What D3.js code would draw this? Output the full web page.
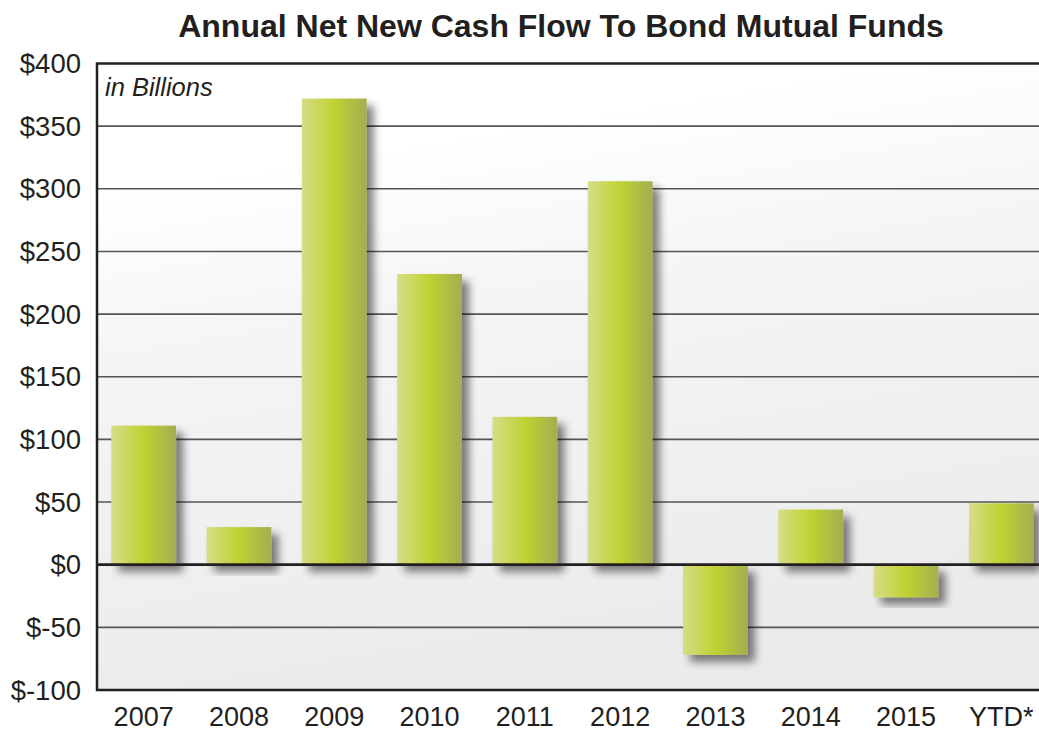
<!DOCTYPE html>
<html>
<head>
<meta charset="utf-8">
<script src="https://cdn.jsdelivr.net/npm/d3@7/dist/d3.min.js"></script>
<style>
html,body{margin:0;padding:0;background:#fff;}
svg{display:block;}
text{font-family:"Liberation Sans",Arial,Helvetica,sans-serif;fill:#231f20;}
</style>
</head>
<body>
<svg id="chart" width="1039" height="733"></svg>
<script>
const categories = ["2007","2008","2009","2010","2011","2012","2013","2014","2015","YTD*"];
const values = [111, 30, 372, 232, 118, 306, -72, 44, -26, 49];
const yTicks = [-100, -50, 0, 50, 100, 150, 200, 250, 300, 350, 400];
const titleText = "Annual Net New Cash Flow To Bond Mutual Funds";
const unitText = "in Billions";

const W = 1039, H = 733;
const plot = {left: 97, right: 1039, top: 63.5, bottom: 690};

const svg = d3.select("#chart");
const defs = svg.append("defs");

// background gradient
const bg = defs.append("linearGradient").attr("id","bgGrad")
  .attr("x1","0").attr("y1","0").attr("x2","0.25").attr("y2","1");
bg.append("stop").attr("offset","0").attr("stop-color","#ffffff");
bg.append("stop").attr("offset","0.2").attr("stop-color","#ffffff");
bg.append("stop").attr("offset","0.45").attr("stop-color","#f5f5f5");
bg.append("stop").attr("offset","1").attr("stop-color","#ebebeb");

// bar gradient
const bgr = defs.append("linearGradient").attr("id","barGrad")
  .attr("x1","0").attr("y1","0").attr("x2","1").attr("y2","0");
bgr.append("stop").attr("offset","0").attr("stop-color","#d6dd86");
bgr.append("stop").attr("offset","0.5").attr("stop-color","#bfd232");
bgr.append("stop").attr("offset","1").attr("stop-color","#a4ae50");

// shadow filter
const f = defs.append("filter").attr("id","shadow")
  .attr("x","-20%").attr("y","-20%").attr("width","150%").attr("height","150%");
f.append("feGaussianBlur").attr("in","SourceAlpha").attr("stdDeviation","4").attr("result","b");
f.append("feOffset").attr("in","b").attr("dx","7").attr("dy","7").attr("result","o");
f.append("feComponentTransfer").attr("in","o").attr("result","s")
  .append("feFuncA").attr("type","linear").attr("slope","0.5");
const fm = f.append("feMerge");
fm.append("feMergeNode").attr("in","s");
fm.append("feMergeNode").attr("in","SourceGraphic");

defs.append("clipPath").attr("id","plotClip").append("rect")
  .attr("x",plot.left).attr("y",plot.top).attr("width",plot.right-plot.left).attr("height",plot.bottom-plot.top);

const y = d3.scaleLinear().domain([-100, 400]).range([plot.bottom, plot.top]);
const x = d3.scaleBand().domain(categories).range([plot.left - 1, 1049])
  .paddingInner(0.32).paddingOuter(0.16);

// plot background
svg.append("rect").attr("x",plot.left).attr("y",plot.top)
  .attr("width",plot.right-plot.left).attr("height",plot.bottom-plot.top)
  .attr("fill","url(#bgGrad)");

const g = svg.append("g").attr("clip-path","url(#plotClip)");

// gridlines
g.selectAll("line.grid").data(yTicks.filter(d => d !== 0 && d !== 400 && d !== -100))
  .enter().append("line").attr("class","grid")
  .attr("x1",plot.left).attr("x2",plot.right)
  .attr("y1",d => y(d)).attr("y2",d => y(d))
  .attr("stroke","#555").attr("stroke-width",1.6);

// bars
g.selectAll("rect.bar").data(values).enter().append("rect").attr("class","bar")
  .attr("x",(d,i) => x(categories[i]))
  .attr("width",x.bandwidth())
  .attr("y",d => y(Math.max(0,d)))
  .attr("height",d => Math.abs(y(d) - y(0)))
  .attr("fill","url(#barGrad)")
  .attr("filter","url(#shadow)");

// zero line
svg.append("line").attr("x1",plot.left).attr("x2",plot.right)
  .attr("y1",y(0)).attr("y2",y(0)).attr("stroke","#231f20").attr("stroke-width",2.8);

// frame
svg.append("path")
  .attr("d",`M${plot.right},${plot.top}H${plot.left}V${plot.bottom}H${plot.right}`)
  .attr("fill","none").attr("stroke","#231f20").attr("stroke-width",2.5);

// y axis labels
svg.append("g").selectAll("text").data(yTicks).enter().append("text")
  .attr("x",81).attr("y",d => y(d))
  .attr("dy","0.35em").attr("text-anchor","end")
  .attr("font-size",27.5).text(d => "$" + d);

// x axis labels
svg.append("g").selectAll("text").data(categories).enter().append("text")
  .attr("x",d => x(d) + x.bandwidth()/2).attr("y",726)
  .attr("text-anchor","middle").attr("font-size",27).text(d => d);

// unit label
svg.append("text").attr("x",105).attr("y",96)
  .attr("font-size",25.5).attr("font-style","italic").text(unitText);

// title
svg.append("text").attr("x",561).attr("y",37)
  .attr("text-anchor","middle").attr("font-size",32).attr("font-weight","bold")
  .text(titleText);
</script>
</body>
</html>
